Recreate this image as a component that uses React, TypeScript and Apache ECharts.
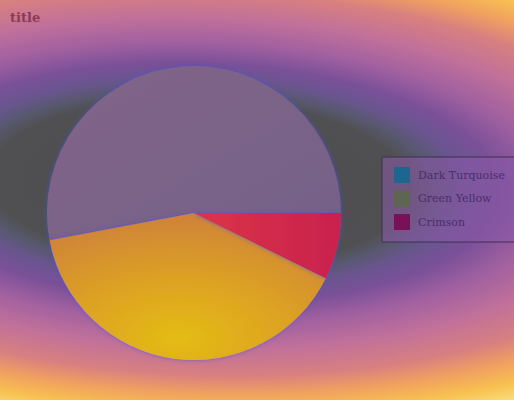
import React, { useEffect, useRef } from "react";
import * as echarts from "echarts";

const categories = ["Dark Turquoise", "Green Yellow", "Crimson"];
const values = [58, 43.5, 8];
const legendColors = ["#1e6690", "#5c6650", "#7a1058"];

const sliceColors: any[] = [
  {
    type: "linear", x: 0, y: 0, x2: 1, y2: 1,
    colorStops: [
      { offset: 0, color: "#826588" },
      { offset: 1, color: "#746188" },
    ],
  },
  {
    type: "radial", x: 0.47, y: 0.85, r: 0.85,
    colorStops: [
      { offset: 0, color: "#e4bc14" },
      { offset: 0.5, color: "#dca024" },
      { offset: 1, color: "#ce823a" },
    ],
  },
  {
    type: "linear", x: 0, y: 0, x2: 1, y2: 0,
    colorStops: [
      { offset: 0, color: "#dc3448" },
      { offset: 1, color: "#c8224e" },
    ],
  },
];

const bgR = 250;
const bgStops = [
  { offset: 0, color: "#4c4c4e" },
  { offset: 84 / bgR, color: "#505052" },
  { offset: 94 / bgR, color: "#585870" },
  { offset: 106 / bgR, color: "#6a5590" },
  { offset: 120 / bgR, color: "#7a5098" },
  { offset: 140 / bgR, color: "#a060a0" },
  { offset: 165 / bgR, color: "#c0709a" },
  { offset: 192 / bgR, color: "#d88080" },
  { offset: 210 / bgR, color: "#f0a060" },
  { offset: 228 / bgR, color: "#f8c050" },
  { offset: 1, color: "#f8ec90" },
];

export default function App() {
  const ref = useRef<HTMLDivElement>(null);
  useEffect(() => {
    const chart = echarts.init(ref.current!, null, { renderer: "svg" });
    chart.setOption({
      animation: false,
      graphic: [
        {
          type: "rect",
          z: -100,
          silent: true,
          x: 200,
          y: 183,
          scaleX: 2.5,
          rotation: -0.035,
          shape: { x: -400, y: -400, width: 800, height: 800 },
          style: {
            fill: {
              type: "radial", x: 0, y: 0, r: bgR, global: true,
              colorStops: bgStops,
            },
          },
        },
      ],
      title: {
        text: "title",
        left: 10,
        top: 11,
        padding: 0,
        textStyle: {
          fontFamily: "DejaVu Serif",
          fontWeight: "bold",
          fontSize: 13,
          color: "#8a3a58",
        },
      },
      legend: {
        orient: "vertical",
        left: 382,
        top: 157,
        itemWidth: 16,
        itemHeight: 16,
        itemGap: 7.5,
        padding: [10, 12, 12, 12],
        borderColor: "#3c3050",
        borderWidth: 1,
        backgroundColor: "rgba(140,90,170,0.55)",
        icon: "rect",
        textStyle: {
          color: "#4a2e6a",
          fontFamily: "DejaVu Serif",
          fontSize: 11,
          padding: [0, 0, 0, 3],
        },
        data: categories.map((name, i) => ({
          name,
          itemStyle: { color: legendColors[i] },
        })),
      },
      series: [
        {
          type: "pie",
          center: [194, 213],
          radius: 147,
          startAngle: 0,
          clockwise: false,
          label: { show: false },
          labelLine: { show: false },
          emphasis: { disabled: true },
          itemStyle: {
            shadowBlur: 4,
            shadowColor: "rgba(70,80,220,0.7)",
          },
          data: categories.map((name, i) => ({
            name,
            value: values[i],
            itemStyle: { color: sliceColors[i] },
          })),
        },
      ],
    });
    return () => chart.dispose();
  }, []);
  return <div ref={ref} style={{ width: 514, height: 400, position: "absolute", left: 0, top: 0 }} />;
}
